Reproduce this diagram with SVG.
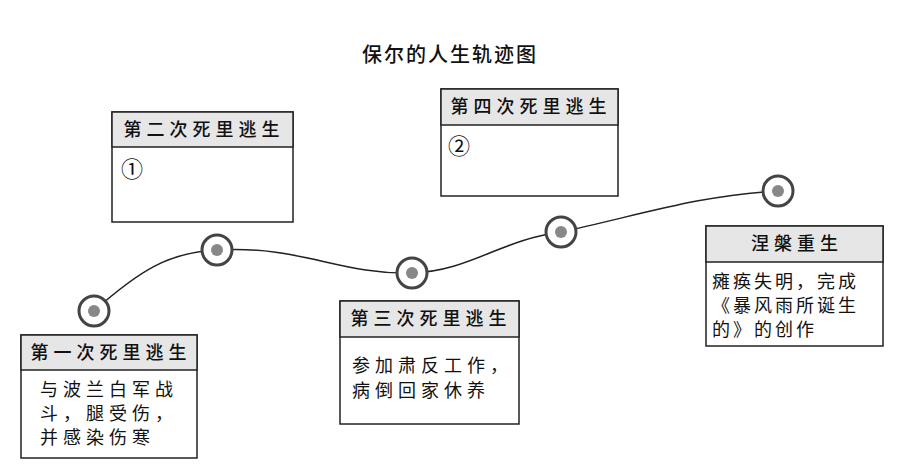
<svg xmlns="http://www.w3.org/2000/svg" width="900" height="468" viewBox="0 0 900 468">
<style>
text{font-family:"Noto Sans CJK SC","Noto Sans",sans-serif;fill:#111}
.box{fill:#fff;stroke:#222;stroke-width:1.5}
.hd{fill:#e6e6e6;stroke:#222;stroke-width:1.5}
.h{font-size:18px;letter-spacing:5px;text-anchor:middle;font-weight:500}
.b{font-size:18px;letter-spacing:5px}
.ring{fill:#fff;stroke:#444;stroke-width:3}
.dot{fill:#888}
</style>
<rect width="900" height="468" fill="#fff"/>
<text x="450" y="62" text-anchor="middle" style="font-size:20px;letter-spacing:2px;font-weight:500">保尔的人生轨迹图</text>
<g id="connectors"><path d="M94,311 C140,270 170,252 217,250 C300,245 340,275 412,273 C470,271 500,240 561,232 C640,215 700,195 778,191" fill="none" stroke="#222" stroke-width="1.5"/></g>
<g id="p1"><circle class="ring" cx="94" cy="311" r="15"/><circle class="dot" cx="94" cy="311" r="6"/></g>
<g id="p2"><circle class="ring" cx="217" cy="250" r="15"/><circle class="dot" cx="217" cy="250" r="6"/></g>
<g id="p3"><circle class="ring" cx="412" cy="273" r="15"/><circle class="dot" cx="412" cy="273" r="6"/></g>
<g id="p4"><circle class="ring" cx="561" cy="232" r="15"/><circle class="dot" cx="561" cy="232" r="6"/></g>
<g id="p5"><circle class="ring" cx="778" cy="191" r="15"/><circle class="dot" cx="778" cy="191" r="6"/></g>
<g id="n1"><rect class="box" x="21" y="335" width="176" height="123"/><rect class="hd" x="21" y="335" width="176" height="35"/>
<text class="h" x="111" y="359">第一次死里逃生</text>
<text class="b" x="40" y="396">与波兰白军战</text><text class="b" x="40" y="420">斗，腿受伤，</text><text class="b" x="40" y="444">并感染伤寒</text></g>
<g id="n2"><rect class="box" x="112" y="112" width="181" height="110"/><rect class="hd" x="112" y="112" width="181" height="35"/>
<text class="h" x="204" y="136">第二次死里逃生</text><text class="b" x="121" y="177" style="font-size:22px">①</text></g>
<g id="n3"><rect class="box" x="340" y="301" width="179" height="123"/><rect class="hd" x="340" y="301" width="179" height="36"/>
<text class="h" x="431" y="325">第三次死里逃生</text>
<text class="b" x="352" y="372">参加肃反工作，</text><text class="b" x="352" y="397">病倒回家休养</text></g>
<g id="n4"><rect class="box" x="441" y="89" width="177" height="107"/><rect class="hd" x="441" y="89" width="177" height="36"/>
<text class="h" x="531" y="113">第四次死里逃生</text><text class="b" x="448" y="154" style="font-size:22px">②</text></g>
<g id="n5"><rect class="box" x="706" y="226" width="177" height="120"/><rect class="hd" x="706" y="226" width="177" height="36"/>
<text class="h" x="797" y="250">涅槃重生</text>
<text class="b" x="712" y="288" style="letter-spacing:3px">瘫痪失明，完成</text><text class="b" x="712" y="312" style="letter-spacing:3px">《暴风雨所诞生</text><text class="b" x="712" y="336" style="letter-spacing:3px">的》的创作</text></g>
</svg>
